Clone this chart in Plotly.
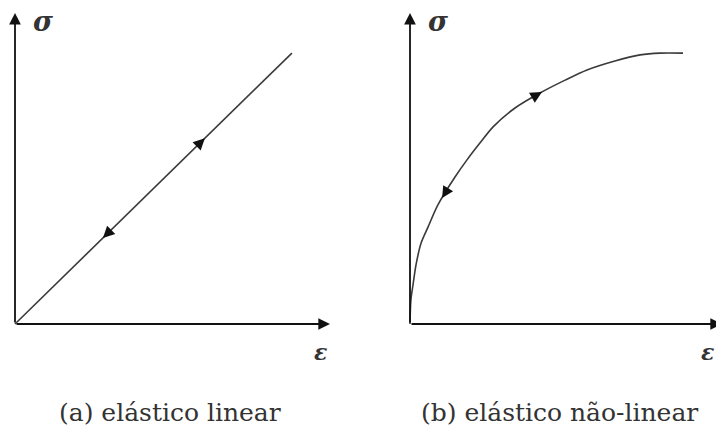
import numpy as np
import plotly.graph_objects as go

# (a) linear elastic: stress proportional to strain
eps_lin = [0.0, 0.923]
sig_lin = [0.0, 0.903]

# (b) non-linear elastic: stiff start, softening towards a plateau
eps_nl = [0.0, 0.003, 0.01, 0.02, 0.037, 0.06, 0.093, 0.15, 0.19, 0.233,
          0.277, 0.35, 0.433, 0.517, 0.59, 0.683, 0.767, 0.833, 0.91]
sig_nl = [0.0, 0.08, 0.13, 0.197, 0.27, 0.323, 0.397, 0.49, 0.547, 0.603,
          0.657, 0.72, 0.77, 0.813, 0.847, 0.877, 0.897, 0.903, 0.903]

# strain positions of the loading / unloading direction marks
marks_lin = [(0.633, +1), (0.293, -1)]
marks_nl = [(0.44, +1), (0.107, -1)]

captions = ["(a) elástico linear", "(b) elástico não-linear"]

AX_LEN_X = [1.05, 1.04]
AX_LEN_Y = 1.037

LINE_COL = "#3a3a3a"
AXIS_COL = "#111111"
TEXT_COL = "#333333"
SERIF = "DejaVu Serif"

fig = go.Figure()
fig.add_trace(go.Scatter(x=eps_lin, y=sig_lin, mode="lines", xaxis="x", yaxis="y",
                         line=dict(color=LINE_COL, width=1.6), hoverinfo="skip"))
fig.add_trace(go.Scatter(x=eps_nl, y=sig_nl, mode="lines", xaxis="x2", yaxis="y",
                         line=dict(color=LINE_COL, width=1.6, shape="spline", smoothing=0.8),
                         hoverinfo="skip"))

ann = []


def axis_arrows(xref, xlen):
    # horizontal strain axis
    ann.append(dict(x=xlen, y=0, ax=0, ay=0, xref=xref, yref="y", axref=xref, ayref="y",
                    text="", showarrow=True, arrowhead=2, arrowsize=1.3, arrowwidth=1.8,
                    arrowcolor=AXIS_COL))
    # vertical stress axis
    ann.append(dict(x=0, y=AX_LEN_Y, ax=0, ay=0, xref=xref, yref="y", axref=xref, ayref="y",
                    text="", showarrow=True, arrowhead=2, arrowsize=1.3, arrowwidth=1.8,
                    arrowcolor=AXIS_COL))


def direction_marks(xref, xs, ys, marks):
    for e, d in marks:
        tip_e = e
        back_e = e - d * 0.02
        ann.append(dict(x=tip_e, y=float(np.interp(tip_e, xs, ys)),
                        ax=back_e, ay=float(np.interp(back_e, xs, ys)),
                        xref=xref, yref="y", axref=xref, ayref="y",
                        text="", showarrow=True, arrowhead=2, arrowsize=1.45,
                        arrowwidth=1.6, arrowcolor="#111111"))


axis_arrows("x", AX_LEN_X[0])
axis_arrows("x2", AX_LEN_X[1])
direction_marks("x", eps_lin, sig_lin, marks_lin)
direction_marks("x2", eps_nl, sig_nl, marks_nl)

# axis symbols
for xref, sx, ex in [("x", 0.093, 1.017), ("x2", 0.092, 0.99)]:
    ann.append(dict(x=sx, y=1.007, xref=xref, yref="y", text="<b><i>σ</i></b>", showarrow=False,
                    font=dict(family=SERIF, size=27, color=TEXT_COL)))
    ann.append(dict(x=ex, y=-0.093, xref=xref, yref="y", text="<b><i>ε</i></b>", showarrow=False,
                    font=dict(family=SERIF, size=22, color=TEXT_COL)))

# panel captions
for cx, txt in zip([0.2374, 0.782], captions):
    ann.append(dict(x=cx, y=0.0528, xref="paper", yref="paper", text=txt, showarrow=False,
                    xanchor="center", yanchor="middle",
                    font=dict(family=SERIF, size=25, color=TEXT_COL)))

hidden = dict(showgrid=False, zeroline=False, showticklabels=False, ticks="", showline=False,
              fixedrange=True)

fig.update_layout(
    width=716, height=436,
    margin=dict(l=0, r=0, t=0, b=0),
    paper_bgcolor="white", plot_bgcolor="white",
    showlegend=False,
    font=dict(family=SERIF),
    xaxis=dict(domain=[0, 0.5], range=[-0.05, 1.14333], **hidden),
    xaxis2=dict(domain=[0.5, 1], range=[-0.17333, 1.02], anchor="y", **hidden),
    yaxis=dict(domain=[0, 1], range=[-0.37333, 1.08], **hidden),
    annotations=ann,
)

fig.write_html("out.html")
